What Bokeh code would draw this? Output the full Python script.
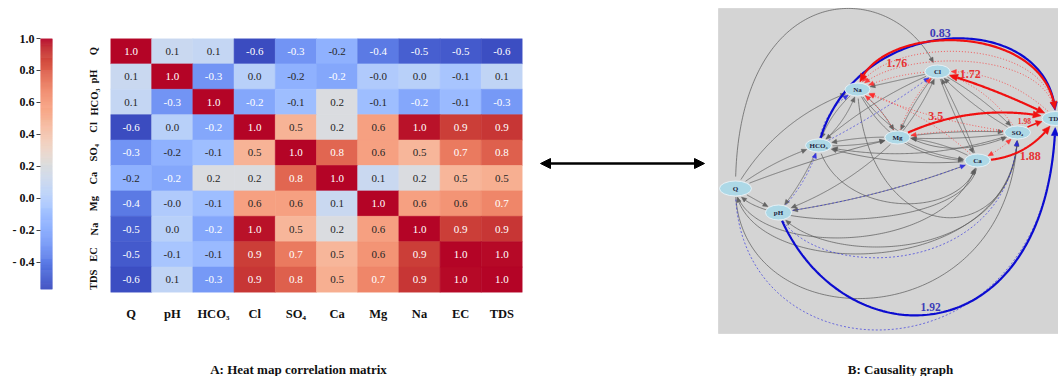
import numpy as np
from bokeh.plotting import figure
from bokeh.layouts import row, column
from bokeh.models import (ColumnDataSource, FactorRange, Range1d, LinearColorMapper,
                          FixedTicker, CustomJSTickFormatter, Arrow, NormalHead)
from bokeh.transform import transform
from bokeh.core.properties import value
from bokeh.embed import file_html
from bokeh.resources import INLINE

# ---------------- heat map data ----------------
variables = ["Q", "pH", "HCO3", "Cl", "SO4", "Ca", "Mg", "Na", "EC", "TDS"]
var_labels = ["Q", "pH", "HCO₃", "Cl", "SO₄", "Ca", "Mg", "Na", "EC", "TDS"]

corr_Q    = [1.00, 0.10, 0.08, -0.57, -0.30, -0.17, -0.40, -0.50, -0.52, -0.56]
corr_pH   = [0.10, 1.00, -0.30, 0.02, -0.17, -0.22, -0.02, 0.02, -0.06, 0.06]
corr_HCO3 = [0.08, -0.30, 1.00, -0.22, -0.10, 0.20, -0.10, -0.22, -0.12, -0.28]
corr_Cl   = [-0.57, 0.02, -0.22, 1.00, 0.50, 0.20, 0.58, 0.98, 0.90, 0.92]
corr_SO4  = [-0.30, -0.17, -0.10, 0.50, 1.00, 0.78, 0.58, 0.48, 0.72, 0.80]
corr_Ca   = [-0.17, -0.22, 0.20, 0.20, 0.78, 1.00, 0.10, 0.20, 0.48, 0.52]
corr_Mg   = [-0.40, -0.02, -0.10, 0.58, 0.58, 0.10, 1.00, 0.58, 0.63, 0.68]
corr_Na   = [-0.50, 0.02, -0.22, 0.98, 0.48, 0.20, 0.58, 1.00, 0.90, 0.92]
corr_EC   = [-0.52, -0.06, -0.12, 0.90, 0.72, 0.48, 0.63, 0.90, 1.00, 0.99]
corr_TDS  = [-0.56, 0.06, -0.28, 0.92, 0.80, 0.52, 0.68, 0.92, 0.99, 1.00]
corr_rows = [corr_Q, corr_pH, corr_HCO3, corr_Cl, corr_SO4, corr_Ca, corr_Mg, corr_Na, corr_EC, corr_TDS]

vmin, vmax = -0.57, 1.0
cbar_ticks = [-0.4, -0.2, 0.0, 0.2, 0.4, 0.6, 0.8, 1.0]

captions = ["A: Heat map correlation matrix", "B: Causality graph"]

# ---------------- causality graph data ----------------
node_names = ["Q", "pH", "HCO3", "Na", "Mg", "Cl", "SO4", "Ca", "TDS"]
node_labels = ["Q", "pH", "HCO₃", "Na", "Mg", "Cl", "SO₄", "Ca", "TDS"]
node_x = [735, 778, 818, 857, 897, 937, 1017, 977, 1055]
node_y = [188, 212, 145, 89, 137, 71, 132, 160, 118]
node_w = [32, 26, 26, 25, 25, 25, 26, 25, 27]
node_h = [15, 15, 13, 13, 13, 13, 13, 13, 14]

# (source, target, shape, a, b, c, style, heads)
edges = [
    ("Q", "Cl", "v", -98, 0, -40, "gray", "end"),
    ("Q", "Na", "q", -15, 0, 0, "gray", "end"),
    ("Q", "HCO3", "q", -4, 0, 0, "gray", "end"),
    ("Q", "Mg", "q", -3, 0, 0, "gray", "end"),
    ("Q", "pH", "q", 0, 0, 0, "gray", "end"),
    ("Q", "Ca", "v", 70, 10, -25, "gray", "end"),
    ("Q", "SO4", "v", 155, 0, -5, "gray", "end"),
    ("HCO3", "Na", "q", 5, 0, 0, "gray", "end"),
    ("Na", "HCO3", "q", 5, 0, 0, "gray", "end"),
    ("HCO3", "Mg", "q", 3, 0, 0, "gray", "end"),
    ("Mg", "HCO3", "q", 3, 0, 0, "gray", "end"),
    ("Ca", "HCO3", "q", -8, 0, 0, "gray", "end"),
    ("SO4", "HCO3", "q", -14, 0, 0, "gray", "end"),
    ("Cl", "HCO3", "q", 6, 0, 0, "gray", "end"),
    ("Na", "Mg", "q", -4, 0, 0, "gray", "end"),
    ("Na", "Ca", "q", 22, 0, 0, "gray", "end"),
    ("Na", "SO4", "q", 35, 0, 0, "gray", "end"),
    ("Cl", "Na", "q", 0, 0, 0, "gray", "end"),
    ("Cl", "Mg", "q", 3, 0, 0, "gray", "end"),
    ("Mg", "Cl", "q", 3, 0, 0, "gray", "end"),
    ("Cl", "Ca", "q", 2, 0, 0, "gray", "end"),
    ("Ca", "Cl", "q", 2, 0, 0, "gray", "end"),
    ("Cl", "SO4", "q", -4, 0, 0, "gray", "end"),
    ("SO4", "Cl", "q", -4, 0, 0, "gray", "end"),
    ("Mg", "Ca", "q", 5, 0, 0, "gray", "end"),
    ("Ca", "Mg", "q", 5, 0, 0, "gray", "end"),
    ("SO4", "Mg", "q", -3, 0, 0, "gray", "end"),
    ("Mg", "SO4", "q", -3, 0, 0, "gray", "end"),
    ("SO4", "pH", "v", 55, 0, 40, "gray", "end"),
    ("Ca", "pH", "q", -6, 0, 0, "gray", "end"),
    ("Ca", "Q", "v", 45, 0, 15, "gray", "end"),
    ("SO4", "Q", "v", 95, 0, 10, "gray", "end"),
    ("HCO3", "pH", "q", -3, 0, 0, "gray", "end"),
    ("Mg", "pH", "q", -8, 0, 0, "gray", "end"),
    ("HCO3", "Ca", "v", 60, 20, -10, "gray", "end"),
    ("Na", "SO4", "v", 120, 10, 0, "gray", "end"),
    ("HCO3", "Na", "q", -9, 0, 0, "blue_dot", "end"),
    ("HCO3", "Cl", "q", 3, 0, 0, "blue_dot", "end"),
    ("pH", "HCO3", "q", 5, 0, 0, "blue_dot", "end"),
    ("pH", "Ca", "q", 6, 0, 0, "blue_dot", "end"),
    ("Q", "TDS", "v", 199, 0, 0, "blue_dot", "end"),
    ("pH", "SO4", "v", 70, 30, -5, "blue_dot", "end"),
    ("TDS", "Na", "v", -55, 0, 25, "red_dot", "end"),
    ("TDS", "Na", "v", -42, 0, 35, "red_dot", "end"),
    ("TDS", "Cl", "q", 14, 0, 0, "red_dot", "end"),
    ("SO4", "Cl", "q", 10, 0, 0, "red_dot", "end"),
    ("Ca", "SO4", "q", 3, 0, 0, "red_dot", "both"),
    ("Mg", "Cl", "q", -5, 0, 0, "red_dot", "end"),
    ("Cl", "Na", "q", 4, 0, 0, "red_dot", "end"),
    ("SO4", "Na", "q", -6, 0, 0, "red_dot", "end"),
    ("Ca", "Na", "q", 8, 0, 0, "red_dot", "end"),
    ("SO4", "Mg", "q", 4, 0, 0, "red_dot", "end"),
    ("Mg", "Na", "q", 4, 0, 0, "red_dot", "end"),
]

# strong causal links with their weights
strong_edges = [
    ("HCO3", "TDS", "v", -111, 35, 0, "blue", "end"),
    ("Na", "TDS", "v", -70, 15, 0, "red", "both"),
    ("Cl", "TDS", "q", -3, 0, 0, "red", "both"),
    ("Mg", "TDS", "q", -14, 0, 0, "red", "end"),
    ("SO4", "TDS", "q", -2, 0, 0, "red_mid", "end"),
    ("Ca", "TDS", "q", 12, 0, 0, "red", "end"),
    ("pH", "TDS", "v", 150, 60, -5, "blue", "end"),
]
strong_weights = ["0.83", "1.76", "1.72", "3.5", "1.98", "1.88", "1.92"]
weight_place = [(0.47, 0, -7), (0.25, 2, 12), (0.27, 0, -8), (0.25, 0, -6),
                (0.3, -4, -6), (0.5, 8, 6), (0.5, -7, -6)]
weight_size = ["12px", "12px", "12px", "12px", "7.5px", "12px", "11.5px"]

# ---------------- colour map (coolwarm) ----------------
cw = [(59, 76, 192), (68, 90, 204), (77, 104, 215), (87, 117, 225), (98, 130, 234),
      (108, 142, 241), (119, 154, 247), (130, 165, 251), (141, 176, 254), (152, 185, 255),
      (163, 194, 255), (174, 201, 253), (184, 208, 249), (194, 213, 244), (204, 217, 238),
      (213, 219, 230), (221, 221, 221), (229, 216, 209), (236, 211, 197), (241, 204, 185),
      (245, 196, 173), (247, 187, 160), (247, 177, 148), (247, 166, 135), (244, 154, 123),
      (241, 141, 111), (236, 127, 99), (229, 112, 88), (222, 96, 77), (213, 80, 66),
      (203, 62, 56), (192, 40, 47), (180, 4, 38)]
cw = np.array(cw, float)
cw_pos = np.linspace(0, 1, len(cw))


def cw_rgb(t):
    return np.array([np.interp(t, cw_pos, cw[:, k]) for k in range(3)])


palette = ["#%02x%02x%02x" % tuple(int(round(c)) for c in cw_rgb(t)) for t in np.linspace(0, 1, 256)]
mapper = LinearColorMapper(palette=palette, low=vmin, high=vmax)


def text_color(v):
    rgb = cw_rgb((v - vmin) / (vmax - vmin)) / 255.0
    lin = np.where(rgb <= 0.04045, rgb / 12.92, ((rgb + 0.055) / 1.055) ** 2.4)
    lum = 0.2126 * lin[0] + 0.7152 * lin[1] + 0.0722 * lin[2]
    return "#262626" if lum > 0.408 else "#ffffff"


SERIF = "Liberation Serif"


def no_align(p):
    try:
        p.frame_align = False
    except Exception:
        pass
    return p


# ---------------- colour bar figure ----------------
pa = figure(frame_width=12, frame_height=251, x_range=Range1d(0, 1), y_range=Range1d(vmin, vmax),
            toolbar_location=None, output_backend="svg", x_axis_location=None,
            min_border_left=40, min_border_right=6, min_border_top=38, min_border_bottom=68)
no_align(pa)
edges_c = np.linspace(vmin, vmax, 257)
pa.quad(left=0, right=1, bottom=edges_c[:-1], top=edges_c[1:],
        fill_color=palette, line_color=palette, line_width=0.5)
pa.yaxis.ticker = FixedTicker(ticks=cbar_ticks)
pa.yaxis.formatter = CustomJSTickFormatter(
    code="return tick < -1e-9 ? '- ' + Math.abs(tick).toFixed(1) : Math.abs(tick).toFixed(1);")
pa.yaxis.axis_line_color = None
pa.yaxis.minor_tick_line_color = None
pa.yaxis.major_tick_out = 4
pa.yaxis.major_tick_in = 0
pa.yaxis.major_tick_line_color = "#444444"
pa.yaxis.major_label_standoff = 2
pa.yaxis.major_label_text_font = SERIF
pa.yaxis.major_label_text_font_style = "bold"
pa.yaxis.major_label_text_font_size = "12px"
pa.yaxis.major_label_text_color = "#111111"
pa.grid.grid_line_color = None
pa.outline_line_color = None

# ---------------- heat map figure ----------------
xs, ys, vals, txt, tcol = [], [], [], [], []
for i, rvals in enumerate(corr_rows):
    for j, v in enumerate(rvals):
        xs.append(var_labels[j])
        ys.append(var_labels[i])
        vals.append(v)
        txt.append(f"{v:.1f}")
        tcol.append(text_color(v))
src = ColumnDataSource(dict(x=xs, y=ys, v=vals, t=txt, c=tcol))

pb = figure(frame_width=412, frame_height=254, x_range=FactorRange(*var_labels),
            y_range=FactorRange(*var_labels[::-1]), toolbar_location=None,
            output_backend="svg", min_border_left=52, min_border_right=8,
            min_border_top=38, min_border_bottom=65)
no_align(pb)
pb.rect(x="x", y="y", width=1, height=1, source=src,
        fill_color=transform("v", mapper), line_color=transform("v", mapper), line_width=0.6)
pb.text(x="x", y="y", text="t", text_color="c", source=src, text_align="center",
        text_baseline="middle", text_font=value(SERIF), text_font_size="11px")
pb.axis.axis_line_color = None
pb.axis.major_tick_line_color = None
pb.axis.minor_tick_line_color = None
pb.axis.major_label_text_font = SERIF
pb.axis.major_label_text_font_style = "bold"
pb.axis.major_label_text_color = "#111111"
pb.xaxis.major_label_text_font_size = "12.5px"
pb.xaxis.major_label_standoff = 8
pb.yaxis.major_label_text_font_size = "10.5px"
pb.yaxis.major_label_orientation = "vertical"
pb.yaxis.major_label_standoff = 5
pb.grid.grid_line_color = None
pb.outline_line_color = None

# ---------------- causality graph figure ----------------
pc = figure(frame_width=528, frame_height=357, x_range=Range1d(530, 1058), y_range=Range1d(357, 0),
            toolbar_location=None, output_backend="svg", x_axis_location=None,
            y_axis_location=None, min_border=0, min_border_left=0, min_border_right=0,
            min_border_top=0, min_border_bottom=0)
no_align(pc)
pc.grid.grid_line_color = None
pc.outline_line_color = None

pc.quad(left=[718], right=[1060], top=[8], bottom=[333], fill_color="#d4d4d4",
        line_color="#c8c8c8", line_width=0.5)

pc.add_layout(Arrow(x_start=540, y_start=163, x_end=704, y_end=163, line_width=2.5,
                    line_color="black",
                    start=NormalHead(size=10, fill_color="black", line_color="black"),
                    end=NormalHead(size=10, fill_color="black", line_color="black")))

idx = {n: i for i, n in enumerate(node_names)}
styles = {
    "gray": ("#5a5a5a", 0.8, "solid", 0.9, 5, 2.2),
    "blue_dot": ("#2a2ae0", 0.7, "2 2", 0.9, 5, 2.2),
    "red_dot": ("#ff2a2a", 0.8, "1 2", 0.9, 5, 2.2),
    "red": ("#f01010", 2.2, "solid", 1.0, 8, 3.5),
    "red_mid": ("#f01010", 1.6, "solid", 1.0, 6, 3.0),
    "blue": ("#0c0cd0", 2.2, "solid", 1.0, 8, 3.5),
}


def control(s, t, shape, a, b, c):
    sx, sy = node_x[idx[s]], node_y[idx[s]]
    tx, ty = node_x[idx[t]], node_y[idx[t]]
    if shape == "q":
        dx, dy = tx - sx, ty - sy
        L = np.hypot(dx, dy)
        nx, ny = -dy / L, dx / L
        mx, my = (sx + tx) / 2, (sy + ty) / 2
        return [(sx, sy), (mx + 2 * a * nx, my + 2 * a * ny), (tx, ty)]
    ext = (max(sy, ty) + a) if a > 0 else (min(sy, ty) + a)
    return [(sx, sy), (sx + b, ext), (tx + c, ext), (tx, ty)]


def bez(ctrl, t):
    P = np.array(ctrl, float)
    t = np.atleast_1d(np.asarray(t, float))
    if len(P) == 3:
        B = ((1 - t) ** 2)[:, None] * P[0] + (2 * (1 - t) * t)[:, None] * P[1] + (t ** 2)[:, None] * P[2]
    else:
        B = (((1 - t) ** 3)[:, None] * P[0] + (3 * (1 - t) ** 2 * t)[:, None] * P[1]
             + (3 * (1 - t) * t ** 2)[:, None] * P[2] + (t ** 3)[:, None] * P[3])
    return B


def inside(pts, k):
    a = node_w[k] / 2 + 1
    b = node_h[k] / 2 + 1
    return ((pts[:, 0] - node_x[k]) / a) ** 2 + ((pts[:, 1] - node_y[k]) / b) ** 2 < 1


def add_head(curve, L, W):
    tip = curve[-1]
    d = np.hypot(curve[:, 0] - tip[0], curve[:, 1] - tip[1])
    j = np.where(d >= L)[0]
    j = j[-1] if len(j) else 0
    u = tip - curve[j]
    u = u / max(np.hypot(*u), 1e-9)
    perp = np.array([-u[1], u[0]])
    base = tip - L * u
    tri = [tip, base + W * perp, base - W * perp]
    return np.vstack([curve[:j + 1], base]), tri


def draw_edges(edge_list):
    groups = {}
    for (s, t, shape, a, b, c, style, heads) in edge_list:
        C = control(s, t, shape, a, b, c)
        B = bez(C, np.linspace(0, 1, 160))
        keep = ~inside(B, idx[s]) & ~inside(B, idx[t])
        ids = np.where(keep)[0]
        if len(ids) < 4:
            continue
        B = B[ids[0]:ids[-1] + 1]
        col, lw, dash, alpha, L, W = styles[style]
        g = groups.setdefault(style, dict(xs=[], ys=[], hx=[], hy=[]))
        tris = []
        if heads in ("end", "both"):
            B, tri = add_head(B, L, W)
            tris.append(tri)
        if heads == "both":
            Br, tri = add_head(B[::-1], L, W)
            B = Br[::-1]
            tris.append(tri)
        g["xs"].append(list(B[:, 0]))
        g["ys"].append(list(B[:, 1]))
        for tri in tris:
            g["hx"].append([p[0] for p in tri])
            g["hy"].append([p[1] for p in tri])
    for style, g in groups.items():
        col, lw, dash, alpha, L, W = styles[style]
        pc.multi_line(xs=g["xs"], ys=g["ys"], line_color=col, line_width=lw,
                      line_dash=dash, line_alpha=alpha)
        if g["hx"]:
            pc.patches(xs=g["hx"], ys=g["hy"], fill_color=col, line_color=col,
                       line_width=0.5, fill_alpha=alpha)


draw_edges(edges)
draw_edges(strong_edges)

pc.ellipse(x=node_x, y=node_y, width=node_w, height=node_h, fill_color="#add8e6",
           line_color="#eef6fb", line_width=0.8)
pc.text(x=node_x, y=node_y, text=node_labels, text_font=value(SERIF), text_font_style="bold",
        text_font_size="7px", text_align="center", text_baseline="middle", text_color="#1c1c3c")

lx, ly, lc = [], [], []
for e, (tpos, dx, dy) in zip(strong_edges, weight_place):
    C = control(*e[:6])
    P = bez(C, tpos)[0]
    lx.append(P[0] + dx)
    ly.append(P[1] + dy)
    lc.append("#3c3cb8" if e[6] == "blue" else "#e63232")
pc.text(x=lx, y=ly, text=strong_weights, text_color=lc, text_font=value(SERIF),
        text_font_style="bold", text_font_size=weight_size, text_align="center",
        text_baseline="middle")

# ---------------- caption strip ----------------
pd_ = figure(frame_width=1058, frame_height=19, x_range=Range1d(0, 1058), y_range=Range1d(376, 357),
             toolbar_location=None, output_backend="svg", x_axis_location=None,
             y_axis_location=None, min_border=0, min_border_left=0, min_border_right=0,
             min_border_top=0, min_border_bottom=0)
no_align(pd_)
pd_.grid.grid_line_color = None
pd_.outline_line_color = None
pd_.text(x=[298, 900], y=[369, 369], text=captions, text_font=value(SERIF),
         text_font_style="bold", text_font_size="13px", text_align="center",
         text_baseline="middle", text_color="#111111")

layout = column(row(pa, pb, pc, spacing=0), pd_, spacing=0)
open("out.html", "w").write(file_html(layout, INLINE))
